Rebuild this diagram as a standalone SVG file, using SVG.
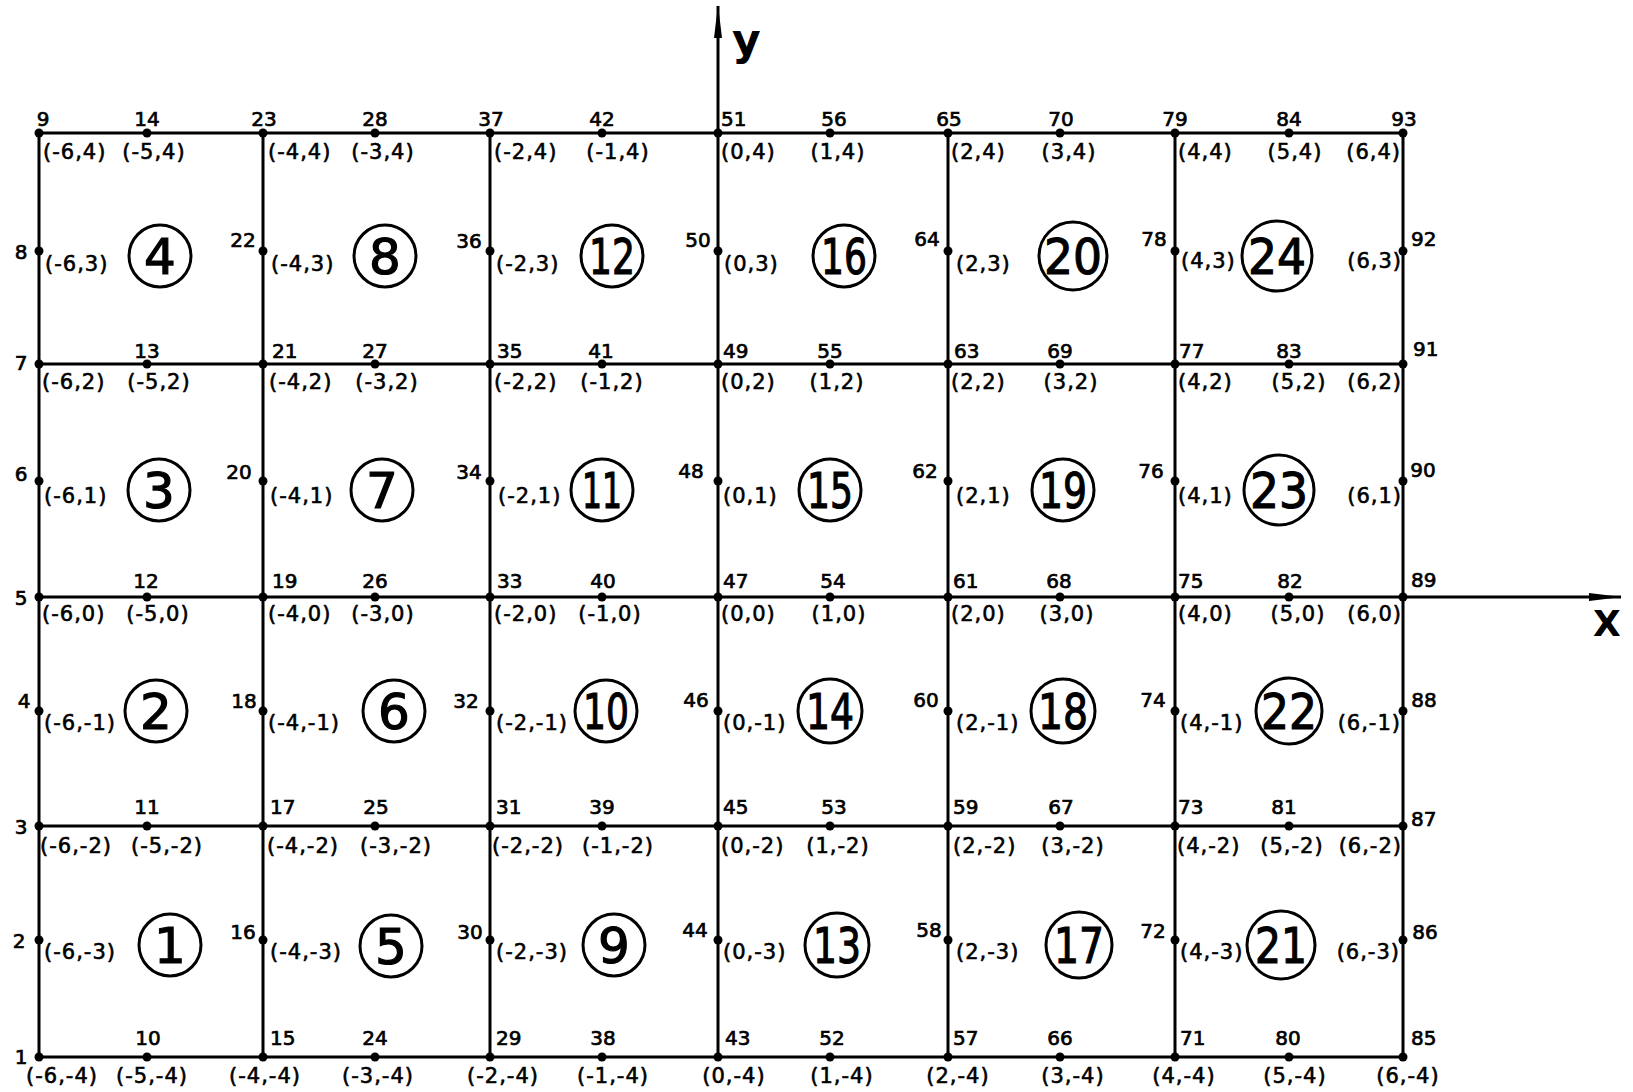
<svg xmlns="http://www.w3.org/2000/svg" width="1633" height="1092" viewBox="0 0 1633 1092">
<defs>
<style>
.edge line{stroke:#000;stroke-width:3;stroke-linecap:square}
.axis{stroke:#000;stroke-width:3}
.d{fill:#000}
text{font-family:"DejaVu Sans","Liberation Sans",sans-serif;fill:#000}
.n{font-size:20px;stroke:#000;stroke-width:0.7px}
.c{font-size:21px;letter-spacing:1px;stroke:#000;stroke-width:0.6px}
.m{text-anchor:middle}
.s{text-anchor:start}
.r{text-anchor:end}
.el circle{fill:none;stroke:#000;stroke-width:3}
.el text{font-size:50px;text-anchor:middle;stroke:#000;stroke-width:1.2px}
.lab{font-weight:bold}
</style>
<marker id="arr" markerUnits="userSpaceOnUse" markerWidth="34" markerHeight="12" refX="32" refY="6" orient="auto">
<path d="M0,2 L33,6 L0,10 z" fill="#000"/>
</marker>
</defs>
<rect width="1633" height="1092" fill="#fff"/>
<g id="connectors" class="edge">
<line x1="39" y1="133" x2="1403" y2="133"/>
<line x1="39" y1="364" x2="1403" y2="364"/>
<line x1="39" y1="597" x2="1403" y2="597"/>
<line x1="39" y1="826" x2="1403" y2="826"/>
<line x1="39" y1="1057" x2="1403" y2="1057"/>
<line x1="39" y1="133" x2="39" y2="1057"/>
<line x1="263" y1="133" x2="263" y2="1057"/>
<line x1="490" y1="133" x2="490" y2="1057"/>
<line x1="718" y1="133" x2="718" y2="1057"/>
<line x1="948" y1="133" x2="948" y2="1057"/>
<line x1="1175" y1="133" x2="1175" y2="1057"/>
<line x1="1403" y1="133" x2="1403" y2="1057"/>
</g>
<g id="axes">
<line class="axis" x1="718" y1="133" x2="718" y2="6" marker-end="url(#arr)"/>
<line class="axis" x1="1403" y1="597" x2="1621" y2="597" marker-end="url(#arr)"/>
<text class="lab" x="732" y="55" font-size="44">y</text>
<text class="lab m" x="1607" y="636" font-size="36">X</text>
</g>
<g id="elements">
<g id="e1" class="el"><circle cx="170" cy="945" r="31"/><text x="170" y="963">1</text></g>
<g id="e2" class="el"><circle cx="156" cy="711" r="31"/><text x="156" y="729">2</text></g>
<g id="e3" class="el"><circle cx="159" cy="490" r="31"/><text x="159" y="508">3</text></g>
<g id="e4" class="el"><circle cx="160" cy="256" r="31"/><text x="160" y="274">4</text></g>
<g id="e5" class="el"><circle cx="391" cy="946" r="31"/><text x="391" y="964">5</text></g>
<g id="e6" class="el"><circle cx="394" cy="711" r="31"/><text x="394" y="729">6</text></g>
<g id="e7" class="el"><circle cx="382" cy="490" r="31"/><text x="382" y="508">7</text></g>
<g id="e8" class="el"><circle cx="385" cy="256" r="31"/><text x="385" y="274">8</text></g>
<g id="e9" class="el"><circle cx="614" cy="945" r="31"/><text x="614" y="963">9</text></g>
<g id="e10" class="el"><circle cx="606" cy="711" r="31"/><text x="606" y="729" textLength="46" lengthAdjust="spacingAndGlyphs">10</text></g>
<g id="e11" class="el"><circle cx="602" cy="490" r="31"/><text x="602" y="508" textLength="40" lengthAdjust="spacingAndGlyphs">11</text></g>
<g id="e12" class="el"><circle cx="612" cy="256" r="31"/><text x="612" y="274" textLength="46" lengthAdjust="spacingAndGlyphs">12</text></g>
<g id="e13" class="el"><circle cx="837" cy="945" r="32"/><text x="837" y="963" textLength="48" lengthAdjust="spacingAndGlyphs">13</text></g>
<g id="e14" class="el"><circle cx="830" cy="711" r="32"/><text x="830" y="729" textLength="48" lengthAdjust="spacingAndGlyphs">14</text></g>
<g id="e15" class="el"><circle cx="830" cy="490" r="31"/><text x="830" y="508" textLength="46" lengthAdjust="spacingAndGlyphs">15</text></g>
<g id="e16" class="el"><circle cx="844" cy="256" r="31"/><text x="844" y="274" textLength="46" lengthAdjust="spacingAndGlyphs">16</text></g>
<g id="e17" class="el"><circle cx="1079" cy="945" r="33"/><text x="1079" y="963" textLength="50" lengthAdjust="spacingAndGlyphs">17</text></g>
<g id="e18" class="el"><circle cx="1063" cy="711" r="32"/><text x="1063" y="729" textLength="50" lengthAdjust="spacingAndGlyphs">18</text></g>
<g id="e19" class="el"><circle cx="1063" cy="490" r="31"/><text x="1063" y="508" textLength="48" lengthAdjust="spacingAndGlyphs">19</text></g>
<g id="e20" class="el"><circle cx="1073" cy="256" r="34"/><text x="1073" y="274" textLength="58" lengthAdjust="spacingAndGlyphs">20</text></g>
<g id="e21" class="el"><circle cx="1281" cy="945" r="34"/><text x="1281" y="963" textLength="52" lengthAdjust="spacingAndGlyphs">21</text></g>
<g id="e22" class="el"><circle cx="1289" cy="711" r="33"/><text x="1289" y="729" textLength="56" lengthAdjust="spacingAndGlyphs">22</text></g>
<g id="e23" class="el"><circle cx="1279" cy="490" r="35"/><text x="1279" y="508" textLength="58" lengthAdjust="spacingAndGlyphs">23</text></g>
<g id="e24" class="el"><circle cx="1277" cy="256" r="35"/><text x="1277" y="274" textLength="58" lengthAdjust="spacingAndGlyphs">24</text></g>
</g>
<g id="nodes">
<g id="n1"><circle class="d" cx="39" cy="1057" r="4.5"/><text class="n m" x="21" y="1064">1</text><text class="c m" x="62" y="1083">(-6,-4)</text></g>
<g id="n2"><circle class="d" cx="39" cy="940" r="4.5"/><text class="n m" x="19" y="948">2</text><text class="c s" x="44" y="959">(-6,-3)</text></g>
<g id="n3"><circle class="d" cx="39" cy="826" r="4.5"/><text class="n m" x="21" y="834">3</text><text class="c s" x="40" y="853">(-6,-2)</text></g>
<g id="n4"><circle class="d" cx="39" cy="711" r="4.5"/><text class="n m" x="24" y="708">4</text><text class="c s" x="44" y="730">(-6,-1)</text></g>
<g id="n5"><circle class="d" cx="39" cy="597" r="4.5"/><text class="n m" x="21" y="605">5</text><text class="c s" x="42" y="621">(-6,0)</text></g>
<g id="n6"><circle class="d" cx="39" cy="481" r="4.5"/><text class="n m" x="21" y="481">6</text><text class="c s" x="44" y="503">(-6,1)</text></g>
<g id="n7"><circle class="d" cx="39" cy="364" r="4.5"/><text class="n m" x="21" y="370">7</text><text class="c s" x="42" y="389">(-6,2)</text></g>
<g id="n8"><circle class="d" cx="39" cy="251" r="4.5"/><text class="n m" x="21" y="259">8</text><text class="c s" x="45" y="271">(-6,3)</text></g>
<g id="n9"><circle class="d" cx="39" cy="133" r="4.5"/><text class="n m" x="43" y="126">9</text><text class="c s" x="43" y="159">(-6,4)</text></g>
<g id="n10"><circle class="d" cx="147" cy="1057" r="4.5"/><text class="n m" x="148" y="1045">10</text><text class="c m" x="152" y="1083">(-5,-4)</text></g>
<g id="n11"><circle class="d" cx="147" cy="826" r="4.5"/><text class="n m" x="147" y="814">11</text><text class="c m" x="167" y="853">(-5,-2)</text></g>
<g id="n12"><circle class="d" cx="147" cy="597" r="4.5"/><text class="n m" x="146" y="588">12</text><text class="c m" x="158" y="621">(-5,0)</text></g>
<g id="n13"><circle class="d" cx="147" cy="364" r="4.5"/><text class="n m" x="147" y="358">13</text><text class="c m" x="159" y="389">(-5,2)</text></g>
<g id="n14"><circle class="d" cx="147" cy="133" r="4.5"/><text class="n m" x="147" y="126">14</text><text class="c m" x="154" y="159">(-5,4)</text></g>
<g id="n15"><circle class="d" cx="263" cy="1057" r="4.5"/><text class="n s" x="270" y="1045">15</text><text class="c m" x="265" y="1083">(-4,-4)</text></g>
<g id="n16"><circle class="d" cx="263" cy="940" r="4.5"/><text class="n m" x="243" y="939">16</text><text class="c s" x="270" y="959">(-4,-3)</text></g>
<g id="n17"><circle class="d" cx="263" cy="826" r="4.5"/><text class="n s" x="270" y="814">17</text><text class="c s" x="267" y="853">(-4,-2)</text></g>
<g id="n18"><circle class="d" cx="263" cy="711" r="4.5"/><text class="n m" x="244" y="708">18</text><text class="c s" x="268" y="730">(-4,-1)</text></g>
<g id="n19"><circle class="d" cx="263" cy="597" r="4.5"/><text class="n s" x="272" y="588">19</text><text class="c s" x="268" y="621">(-4,0)</text></g>
<g id="n20"><circle class="d" cx="263" cy="481" r="4.5"/><text class="n m" x="239" y="479">20</text><text class="c s" x="270" y="503">(-4,1)</text></g>
<g id="n21"><circle class="d" cx="263" cy="364" r="4.5"/><text class="n s" x="272" y="358">21</text><text class="c s" x="269" y="389">(-4,2)</text></g>
<g id="n22"><circle class="d" cx="263" cy="251" r="4.5"/><text class="n m" x="243" y="247">22</text><text class="c s" x="271" y="271">(-4,3)</text></g>
<g id="n23"><circle class="d" cx="263" cy="133" r="4.5"/><text class="n m" x="264" y="126">23</text><text class="c s" x="268" y="159">(-4,4)</text></g>
<g id="n24"><circle class="d" cx="375" cy="1057" r="4.5"/><text class="n m" x="375" y="1045">24</text><text class="c m" x="378" y="1083">(-3,-4)</text></g>
<g id="n25"><circle class="d" cx="375" cy="826" r="4.5"/><text class="n m" x="376" y="814">25</text><text class="c m" x="396" y="853">(-3,-2)</text></g>
<g id="n26"><circle class="d" cx="375" cy="597" r="4.5"/><text class="n m" x="375" y="588">26</text><text class="c m" x="383" y="621">(-3,0)</text></g>
<g id="n27"><circle class="d" cx="375" cy="364" r="4.5"/><text class="n m" x="375" y="358">27</text><text class="c m" x="387" y="389">(-3,2)</text></g>
<g id="n28"><circle class="d" cx="375" cy="133" r="4.5"/><text class="n m" x="375" y="126">28</text><text class="c m" x="383" y="159">(-3,4)</text></g>
<g id="n29"><circle class="d" cx="490" cy="1057" r="4.5"/><text class="n s" x="496" y="1045">29</text><text class="c m" x="503" y="1083">(-2,-4)</text></g>
<g id="n30"><circle class="d" cx="490" cy="940" r="4.5"/><text class="n m" x="470" y="939">30</text><text class="c s" x="496" y="959">(-2,-3)</text></g>
<g id="n31"><circle class="d" cx="490" cy="826" r="4.5"/><text class="n s" x="496" y="814">31</text><text class="c s" x="492" y="853">(-2,-2)</text></g>
<g id="n32"><circle class="d" cx="490" cy="711" r="4.5"/><text class="n m" x="466" y="708">32</text><text class="c s" x="496" y="730">(-2,-1)</text></g>
<g id="n33"><circle class="d" cx="490" cy="597" r="4.5"/><text class="n s" x="497" y="588">33</text><text class="c s" x="494" y="621">(-2,0)</text></g>
<g id="n34"><circle class="d" cx="490" cy="481" r="4.5"/><text class="n m" x="469" y="479">34</text><text class="c s" x="498" y="503">(-2,1)</text></g>
<g id="n35"><circle class="d" cx="490" cy="364" r="4.5"/><text class="n s" x="497" y="358">35</text><text class="c s" x="494" y="389">(-2,2)</text></g>
<g id="n36"><circle class="d" cx="490" cy="251" r="4.5"/><text class="n m" x="469" y="248">36</text><text class="c s" x="496" y="271">(-2,3)</text></g>
<g id="n37"><circle class="d" cx="490" cy="133" r="4.5"/><text class="n m" x="491" y="126">37</text><text class="c s" x="494" y="159">(-2,4)</text></g>
<g id="n38"><circle class="d" cx="602" cy="1057" r="4.5"/><text class="n m" x="603" y="1045">38</text><text class="c m" x="613" y="1083">(-1,-4)</text></g>
<g id="n39"><circle class="d" cx="602" cy="826" r="4.5"/><text class="n m" x="602" y="814">39</text><text class="c m" x="618" y="853">(-1,-2)</text></g>
<g id="n40"><circle class="d" cx="602" cy="597" r="4.5"/><text class="n m" x="603" y="588">40</text><text class="c m" x="610" y="621">(-1,0)</text></g>
<g id="n41"><circle class="d" cx="602" cy="364" r="4.5"/><text class="n m" x="601" y="358">41</text><text class="c m" x="612" y="389">(-1,2)</text></g>
<g id="n42"><circle class="d" cx="602" cy="133" r="4.5"/><text class="n m" x="602" y="126">42</text><text class="c m" x="618" y="159">(-1,4)</text></g>
<g id="n43"><circle class="d" cx="718" cy="1057" r="4.5"/><text class="n s" x="725" y="1045">43</text><text class="c m" x="734" y="1083">(0,-4)</text></g>
<g id="n44"><circle class="d" cx="718" cy="940" r="4.5"/><text class="n m" x="695" y="937">44</text><text class="c s" x="723" y="959">(0,-3)</text></g>
<g id="n45"><circle class="d" cx="718" cy="826" r="4.5"/><text class="n s" x="723" y="814">45</text><text class="c s" x="721" y="853">(0,-2)</text></g>
<g id="n46"><circle class="d" cx="718" cy="711" r="4.5"/><text class="n m" x="696" y="707">46</text><text class="c s" x="723" y="730">(0,-1)</text></g>
<g id="n47"><circle class="d" cx="718" cy="597" r="4.5"/><text class="n s" x="723" y="588">47</text><text class="c s" x="721" y="621">(0,0)</text></g>
<g id="n48"><circle class="d" cx="718" cy="481" r="4.5"/><text class="n m" x="691" y="478">48</text><text class="c s" x="723" y="503">(0,1)</text></g>
<g id="n49"><circle class="d" cx="718" cy="364" r="4.5"/><text class="n s" x="723" y="358">49</text><text class="c s" x="721" y="389">(0,2)</text></g>
<g id="n50"><circle class="d" cx="718" cy="251" r="4.5"/><text class="n m" x="698" y="247">50</text><text class="c s" x="724" y="271">(0,3)</text></g>
<g id="n51"><circle class="d" cx="718" cy="133" r="4.5"/><text class="n s" x="721" y="126">51</text><text class="c s" x="721" y="159">(0,4)</text></g>
<g id="n52"><circle class="d" cx="830" cy="1057" r="4.5"/><text class="n m" x="832" y="1045">52</text><text class="c m" x="842" y="1083">(1,-4)</text></g>
<g id="n53"><circle class="d" cx="830" cy="826" r="4.5"/><text class="n m" x="834" y="814">53</text><text class="c m" x="838" y="853">(1,-2)</text></g>
<g id="n54"><circle class="d" cx="830" cy="597" r="4.5"/><text class="n m" x="833" y="588">54</text><text class="c m" x="839" y="621">(1,0)</text></g>
<g id="n55"><circle class="d" cx="830" cy="364" r="4.5"/><text class="n m" x="830" y="358">55</text><text class="c m" x="837" y="389">(1,2)</text></g>
<g id="n56"><circle class="d" cx="830" cy="133" r="4.5"/><text class="n m" x="834" y="126">56</text><text class="c m" x="838" y="159">(1,4)</text></g>
<g id="n57"><circle class="d" cx="948" cy="1057" r="4.5"/><text class="n s" x="953" y="1045">57</text><text class="c m" x="958" y="1083">(2,-4)</text></g>
<g id="n58"><circle class="d" cx="948" cy="940" r="4.5"/><text class="n m" x="929" y="937">58</text><text class="c s" x="956" y="959">(2,-3)</text></g>
<g id="n59"><circle class="d" cx="948" cy="826" r="4.5"/><text class="n s" x="953" y="814">59</text><text class="c s" x="953" y="853">(2,-2)</text></g>
<g id="n60"><circle class="d" cx="948" cy="711" r="4.5"/><text class="n m" x="926" y="707">60</text><text class="c s" x="956" y="730">(2,-1)</text></g>
<g id="n61"><circle class="d" cx="948" cy="597" r="4.5"/><text class="n s" x="953" y="588">61</text><text class="c s" x="951" y="621">(2,0)</text></g>
<g id="n62"><circle class="d" cx="948" cy="481" r="4.5"/><text class="n m" x="925" y="478">62</text><text class="c s" x="956" y="503">(2,1)</text></g>
<g id="n63"><circle class="d" cx="948" cy="364" r="4.5"/><text class="n s" x="954" y="358">63</text><text class="c s" x="951" y="389">(2,2)</text></g>
<g id="n64"><circle class="d" cx="948" cy="251" r="4.5"/><text class="n m" x="927" y="246">64</text><text class="c s" x="956" y="271">(2,3)</text></g>
<g id="n65"><circle class="d" cx="948" cy="133" r="4.5"/><text class="n m" x="949" y="126">65</text><text class="c s" x="951" y="159">(2,4)</text></g>
<g id="n66"><circle class="d" cx="1060" cy="1057" r="4.5"/><text class="n m" x="1060" y="1045">66</text><text class="c m" x="1073" y="1083">(3,-4)</text></g>
<g id="n67"><circle class="d" cx="1060" cy="826" r="4.5"/><text class="n m" x="1061" y="814">67</text><text class="c m" x="1073" y="853">(3,-2)</text></g>
<g id="n68"><circle class="d" cx="1060" cy="597" r="4.5"/><text class="n m" x="1059" y="588">68</text><text class="c m" x="1067" y="621">(3,0)</text></g>
<g id="n69"><circle class="d" cx="1060" cy="364" r="4.5"/><text class="n m" x="1060" y="358">69</text><text class="c m" x="1071" y="389">(3,2)</text></g>
<g id="n70"><circle class="d" cx="1060" cy="133" r="4.5"/><text class="n m" x="1061" y="126">70</text><text class="c m" x="1069" y="159">(3,4)</text></g>
<g id="n71"><circle class="d" cx="1175" cy="1057" r="4.5"/><text class="n s" x="1180" y="1045">71</text><text class="c m" x="1184" y="1083">(4,-4)</text></g>
<g id="n72"><circle class="d" cx="1175" cy="940" r="4.5"/><text class="n m" x="1153" y="938">72</text><text class="c s" x="1180" y="959">(4,-3)</text></g>
<g id="n73"><circle class="d" cx="1175" cy="826" r="4.5"/><text class="n s" x="1178" y="814">73</text><text class="c s" x="1177" y="853">(4,-2)</text></g>
<g id="n74"><circle class="d" cx="1175" cy="711" r="4.5"/><text class="n m" x="1153" y="707">74</text><text class="c s" x="1180" y="730">(4,-1)</text></g>
<g id="n75"><circle class="d" cx="1175" cy="597" r="4.5"/><text class="n s" x="1178" y="588">75</text><text class="c s" x="1178" y="621">(4,0)</text></g>
<g id="n76"><circle class="d" cx="1175" cy="481" r="4.5"/><text class="n m" x="1151" y="478">76</text><text class="c s" x="1178" y="503">(4,1)</text></g>
<g id="n77"><circle class="d" cx="1175" cy="364" r="4.5"/><text class="n s" x="1179" y="358">77</text><text class="c s" x="1178" y="389">(4,2)</text></g>
<g id="n78"><circle class="d" cx="1175" cy="251" r="4.5"/><text class="n m" x="1154" y="246">78</text><text class="c s" x="1181" y="268">(4,3)</text></g>
<g id="n79"><circle class="d" cx="1175" cy="133" r="4.5"/><text class="n m" x="1175" y="126">79</text><text class="c s" x="1178" y="159">(4,4)</text></g>
<g id="n80"><circle class="d" cx="1289" cy="1057" r="4.5"/><text class="n m" x="1288" y="1045">80</text><text class="c m" x="1295" y="1083">(5,-4)</text></g>
<g id="n81"><circle class="d" cx="1289" cy="826" r="4.5"/><text class="n m" x="1284" y="814">81</text><text class="c m" x="1292" y="853">(5,-2)</text></g>
<g id="n82"><circle class="d" cx="1289" cy="597" r="4.5"/><text class="n m" x="1290" y="588">82</text><text class="c m" x="1298" y="621">(5,0)</text></g>
<g id="n83"><circle class="d" cx="1289" cy="364" r="4.5"/><text class="n m" x="1289" y="358">83</text><text class="c m" x="1299" y="389">(5,2)</text></g>
<g id="n84"><circle class="d" cx="1289" cy="133" r="4.5"/><text class="n m" x="1289" y="126">84</text><text class="c m" x="1295" y="159">(5,4)</text></g>
<g id="n85"><circle class="d" cx="1403" cy="1057" r="4.5"/><text class="n s" x="1411" y="1045">85</text><text class="c m" x="1408" y="1083">(6,-4)</text></g>
<g id="n86"><circle class="d" cx="1403" cy="940" r="4.5"/><text class="n m" x="1425" y="939">86</text><text class="c r" x="1400" y="959">(6,-3)</text></g>
<g id="n87"><circle class="d" cx="1403" cy="826" r="4.5"/><text class="n s" x="1411" y="826">87</text><text class="c r" x="1402" y="853">(6,-2)</text></g>
<g id="n88"><circle class="d" cx="1403" cy="711" r="4.5"/><text class="n m" x="1424" y="707">88</text><text class="c r" x="1401" y="730">(6,-1)</text></g>
<g id="n89"><circle class="d" cx="1403" cy="597" r="4.5"/><text class="n s" x="1411" y="587">89</text><text class="c r" x="1402" y="621">(6,0)</text></g>
<g id="n90"><circle class="d" cx="1403" cy="481" r="4.5"/><text class="n m" x="1423" y="477">90</text><text class="c r" x="1402" y="503">(6,1)</text></g>
<g id="n91"><circle class="d" cx="1403" cy="364" r="4.5"/><text class="n s" x="1413" y="356">91</text><text class="c r" x="1402" y="389">(6,2)</text></g>
<g id="n92"><circle class="d" cx="1403" cy="251" r="4.5"/><text class="n s" x="1411" y="246">92</text><text class="c r" x="1402" y="268">(6,3)</text></g>
<g id="n93"><circle class="d" cx="1403" cy="133" r="4.5"/><text class="n m" x="1404" y="126">93</text><text class="c r" x="1401" y="159">(6,4)</text></g>
</g>
</svg>
